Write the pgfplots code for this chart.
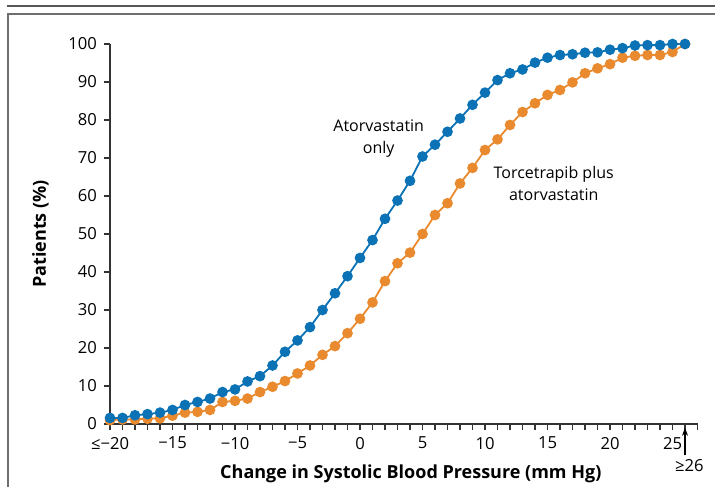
\documentclass[border=0pt]{standalone}
\usepackage{fontspec}
\setmainfont{Open Sans}
\usepackage{pgfplots}
\pgfplotsset{compat=1.18}
\usetikzlibrary{arrows.meta}

\definecolor{atorblue}{RGB}{10,114,181}
\definecolor{torcorange}{RGB}{233,138,46}
\definecolor{framegray}{RGB}{110,110,110}

% atorvastatin only
\pgfplotstableread{
x y
-20 1.6
-19 1.6
-18 2.3
-17 2.6
-16 3.0
-15 3.7
-14 5.0
-13 5.8
-12 6.7
-11 8.4
-10 9.1
-9 11.2
-8 12.6
-7 15.4
-6 19.0
-5 22.0
-4 25.5
-3 30.0
-2 34.4
-1 38.9
0 43.7
1 48.4
2 54.0
3 58.8
4 64.0
5 70.4
6 73.5
7 76.9
8 80.4
9 84.0
10 87.2
11 90.5
12 92.3
13 93.3
14 95.1
15 96.4
16 97.1
17 97.3
18 97.7
19 97.8
20 98.5
21 98.9
22 99.6
23 99.7
24 99.7
25 100
26 100
}\atorva

% torcetrapib plus atorvastatin
\pgfplotstableread{
x y
-20 1.0
-19 1.2
-18 1.2
-17 1.4
-16 1.5
-15 2.2
-14 3.0
-13 3.2
-12 3.7
-11 5.8
-10 6.1
-9 6.7
-8 8.4
-7 9.8
-6 11.3
-5 13.3
-4 15.4
-3 18.2
-2 20.5
-1 23.9
0 27.7
1 32.0
2 37.6
3 42.3
4 45.1
5 50.0
6 55.0
7 58.1
8 63.3
9 67.4
10 72.1
11 74.9
12 78.7
13 82.1
14 84.4
15 86.6
16 87.9
17 89.9
18 92.3
19 93.6
20 94.7
21 96.4
22 96.9
23 97.1
24 97.1
25 97.9
26 100
}\torcetra

\begin{document}
\begin{tikzpicture}
\begin{axis}[
    scale only axis,
    width=293.75pt, height=190pt,
    xmin=-20, xmax=27,
    ymin=0, ymax=100,
    axis x line*=bottom,
    axis y line*=left,
    axis line style={line width=0.8pt, black!80},
    tick align=outside,
    tick style={line width=0.6pt, black!80},
    major tick length=3pt,
    minor tick length=3pt,
    xtick={-20,-15,...,25},
    xticklabels={≤−20,−15,−10,−5,0,5,10,15,20,25},
    minor xtick={-19,...,27},
    ytick={0,10,...,100},
    /pgf/number format/assume math mode=true,
    tick label style={font=\fontsize{8.3}{9.6}\selectfont},
    xlabel={\textbf{Change in Systolic Blood Pressure (mm Hg)}},
    ylabel={\textbf{Patients (\%)}},
    label style={font=\fontsize{9}{10.8}\selectfont},
    xlabel style={at={(axis description cs:0.512,0)}, anchor=center, yshift=-25pt},
    ylabel style={yshift=3pt},
    clip=false,
]
\addplot[torcorange, line width=0.9pt, mark=*, mark size=2.2pt] table {\torcetra};
\addplot[atorblue, line width=0.9pt, mark=*, mark size=2.2pt] table {\atorva};

\node[align=center, font=\fontsize{8}{11}\selectfont] at (axis cs:1.5,75) {Atorvastatin\\only};
\node[align=center, font=\fontsize{8}{11}\selectfont] at (axis cs:15.5,63.2) {Torcetrapib plus\\atorvastatin};

\draw[-{Stealth[length=4pt,width=3pt]}, line width=0.6pt] (axis cs:26,-8.2) -- (axis cs:26,-1);
\node[font=\fontsize{8.3}{9.6}\selectfont] at (axis cs:26.35,-11) {≥26};
\end{axis}

% figure frame
\draw[framegray!80!black, line width=1pt] (-51.5pt,208.75pt) -- (302.5pt,208.75pt);
\draw[framegray, line width=0.9pt] (302.5pt,205pt) -- (-51pt,205pt) -- (-51pt,-31.5pt);

\pgfresetboundingbox
\useasboundingbox (-55pt,-31.5pt) rectangle (302.5pt,212pt);
\end{tikzpicture}
\end{document}
